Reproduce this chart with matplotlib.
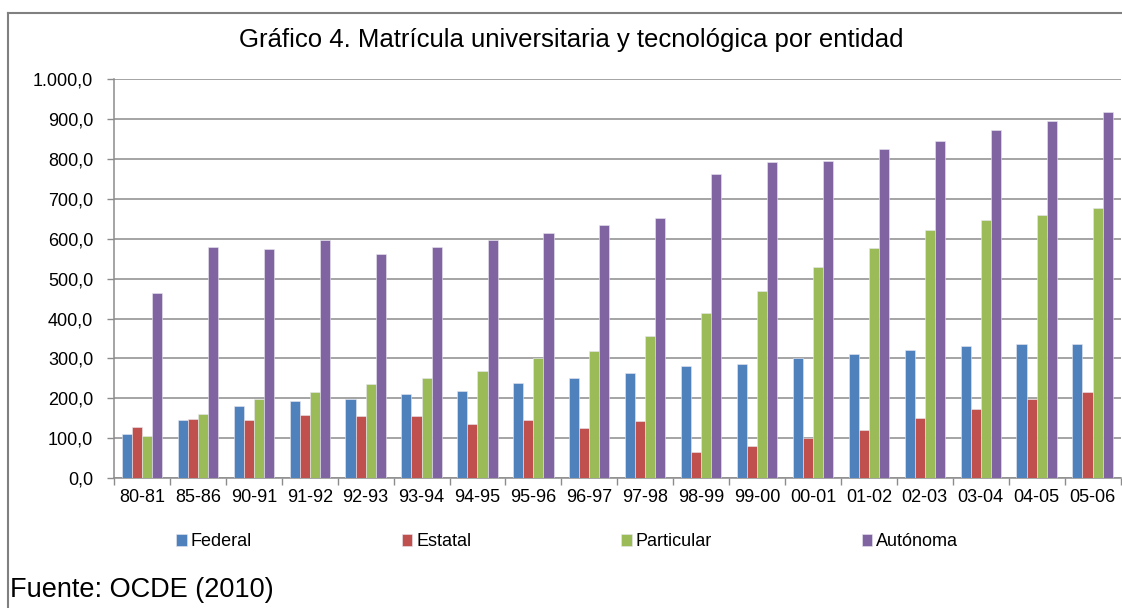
import matplotlib
matplotlib.use('Agg')
import matplotlib.pyplot as plt
from matplotlib.lines import Line2D
from matplotlib.ticker import FuncFormatter, MultipleLocator, FixedLocator
import numpy as np

periods = ['80-81', '85-86', '90-91', '91-92', '92-93', '93-94', '94-95', '95-96', '96-97',
           '97-98', '98-99', '99-00', '00-01', '01-02', '02-03', '03-04', '04-05', '05-06']
federal = [110, 146, 181, 194, 197, 210, 219, 238, 251, 264, 281, 287, 301, 310, 320, 332, 335, 335]
estatal = [129, 149, 146, 158, 155, 155, 136, 146, 126, 142, 64, 80, 100, 120, 151, 174, 198, 216]
particular = [106, 161, 198, 216, 236, 252, 268, 302, 319, 357, 413, 470, 528, 577, 622, 648, 660, 676]
autonoma = [464, 580, 574, 596, 561, 580, 596, 615, 635, 651, 763, 792, 796, 824, 844, 873, 895, 918]

series = [('Federal', federal, '#4F81BD'),
          ('Estatal', estatal, '#C0504D'),
          ('Particular', particular, '#9BBB59'),
          ('Autónoma', autonoma, '#8064A2')]

plt.rcParams['font.family'] = ['Liberation Sans', 'DejaVu Sans']

W, H = 1122, 608
fig = plt.figure(figsize=(W / 100, H / 100), dpi=100)
ax = fig.add_axes([114 / W, 1 - 478 / H, (1120.5 - 114) / W, (478 - 79.3) / H])

x = np.arange(len(periods))
bw = 0.18
for i, (name, vals, col) in enumerate(series):
    ax.bar(x + (i - 1.5) * bw, vals, bw, color=col, label=name, zorder=3,
           edgecolor='#e8e8f0', linewidth=0.4)

ax.set_xlim(-0.5, len(periods) - 0.5)
ax.set_ylim(0, 1000)
ax.yaxis.set_major_locator(MultipleLocator(100))


def fmt(v, pos):
    s = f'{v:,.1f}'
    return s.replace(',', 'X').replace('.', ',').replace('X', '.')


ax.yaxis.set_major_formatter(FuncFormatter(fmt))
ax.set_xticks(x)
ax.set_xticklabels(periods)
ax.xaxis.set_minor_locator(FixedLocator(np.arange(-0.5, len(periods), 1)))
ax.tick_params(axis='x', which='major', length=0, pad=8, labelsize=13)
ax.tick_params(axis='x', which='minor', length=5, color='#8c8c8c', width=1)
ax.tick_params(axis='y', length=5, color='#8c8c8c', width=1, pad=10, labelsize=13)

ax.grid(axis='y', color='#8c8c8c', lw=1.1, zorder=0)
for s in ['top', 'right']:
    ax.spines[s].set_visible(False)
for s in ['left', 'bottom']:
    ax.spines[s].set_color('#8c8c8c')
    ax.spines[s].set_linewidth(1.1)

fig.text(571 / W, 1 - 40 / H, 'Gráfico 4. Matrícula universitaria y tecnológica por entidad',
         ha='center', va='center', fontsize=18.5)

handles, labels = ax.get_legend_handles_labels()
fig.legend(handles, labels, loc='center', bbox_to_anchor=(567 / W, 1 - 542 / H), ncol=4,
           frameon=False, fontsize=13, handlelength=0.6, handleheight=0.6,
           handletextpad=0.2, columnspacing=8.3)

fig.text(10 / W, 1 - 597 / H, 'Fuente: OCDE (2010)', ha='left', va='baseline', fontsize=19.5)

# chart border
fig.add_artist(Line2D([8 / W, 1], [1 - 13 / H, 1 - 13 / H], color='#808080', lw=1.5))
fig.add_artist(Line2D([8 / W, 8 / W], [0, 1 - 13 / H], color='#808080', lw=1.5))

fig.savefig('out.png', dpi=100)
